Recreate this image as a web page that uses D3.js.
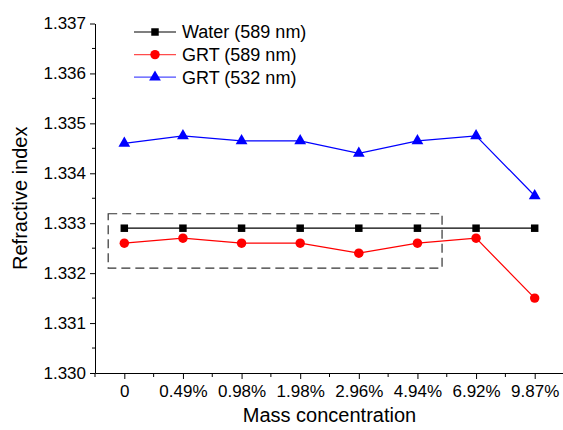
<!DOCTYPE html>
<html>
<head>
<meta charset="utf-8">
<script src="https://cdn.jsdelivr.net/npm/d3@7"></script>
<style>
  body { margin: 0; background: #fff; }
  text { font-family: Arial, "Liberation Sans", sans-serif; fill: #000; }
</style>
</head>
<body>
<div id="container"></div>
<script>
var categories = ["0", "0.49%", "0.98%", "1.98%", "2.96%", "4.94%", "6.92%", "9.87%"];
var water589 = [1.3329, 1.3329, 1.3329, 1.3329, 1.3329, 1.3329, 1.3329, 1.3329];
var grt589 = [1.3326, 1.3327, 1.3326, 1.3326, 1.3324, 1.3326, 1.3327, 1.3315];
var grt532 = [1.3346, 1.33475, 1.33465, 1.33465, 1.3344, 1.33465, 1.33475, 1.33355];
var yTicks = [1.330, 1.331, 1.332, 1.333, 1.334, 1.335, 1.336, 1.337];
var seriesNames = ["Water (589 nm)", "GRT (589 nm)", "GRT (532 nm)"];

var W = 563, H = 430;
var plotLeft = 95, plotRight = 564, plotTop = 23.5, plotBottom = 373;

var svg = d3.select("#container")
    .append("svg")
        .attr("width", W)
        .attr("height", H);

var x = d3.scaleLinear().domain([-0.5, 7.5]).range([plotLeft, plotRight]);
var y = d3.scaleLinear().domain([1.330, 1.337]).range([plotBottom, plotTop]);

// x axis
var xAxis = d3.axisBottom(x)
    .tickValues(d3.range(0, 8))
    .tickFormat(function(d) { return categories[d]; })
    .tickSize(6)
    .tickSizeOuter(0)
    .tickPadding(6);
var gx = svg.append("g")
    .attr("transform", "translate(0," + plotBottom + ")")
    .call(xAxis);
gx.selectAll("text").style("font-size", "17px");
gx.selectAll(".minor")
    .data(d3.range(-0.5, 8, 1))
    .enter().append("line")
    .attr("x1", function(d) { return x(d); })
    .attr("x2", function(d) { return x(d); })
    .attr("y1", 0).attr("y2", 4)
    .attr("stroke", "#000");

// y axis
var yAxis = d3.axisLeft(y)
    .tickValues(yTicks)
    .tickFormat(d3.format(".3f"))
    .tickSize(5)
    .tickSizeOuter(0)
    .tickPadding(4);
var gy = svg.append("g")
    .attr("transform", "translate(" + plotLeft + ",0)")
    .call(yAxis);
gy.selectAll("text").style("font-size", "17px");
gy.selectAll(".minor")
    .data(d3.range(1.3305, 1.337, 0.001))
    .enter().append("line")
    .attr("y1", function(d) { return y(d); })
    .attr("y2", function(d) { return y(d); })
    .attr("x1", 0).attr("x2", -3)
    .attr("stroke", "#000");
svg.selectAll(".domain").attr("stroke", "#000");

// axis titles
svg.append("text")
    .attr("x", (plotLeft + plotRight) / 2)
    .attr("y", 422)
    .attr("text-anchor", "middle")
    .style("font-size", "20px")
    .text("Mass concentration");
svg.append("text")
    .attr("transform", "translate(27," + (plotBottom + plotTop) / 2 + ") rotate(-90)")
    .attr("text-anchor", "middle")
    .style("font-size", "20px")
    .text("Refractive index");

// dashed box
svg.append("rect")
    .attr("x", x(-0.275))
    .attr("y", y(1.33319))
    .attr("width", x(5.42) - x(-0.275))
    .attr("height", y(1.3321) - y(1.33319))
    .attr("fill", "none")
    .attr("stroke", "#333")
    .attr("stroke-width", 1.2)
    .attr("stroke-dasharray", "9,5");

var series = [
    {name: seriesNames[0], values: water589, color: "#000000", shape: d3.symbolSquare, size: 56},
    {name: seriesNames[1], values: grt589, color: "#ff0000", shape: d3.symbolCircle, size: 70},
    {name: seriesNames[2], values: grt532, color: "#0000ff", shape: d3.symbolTriangle, size: 60}
];

var line = d3.line()
    .x(function(d, i) { return x(i); })
    .y(function(d) { return y(d); });

series.forEach(function(s) {
    svg.append("path")
        .datum(s.values)
        .attr("d", line)
        .attr("fill", "none")
        .attr("stroke", s.color)
        .attr("stroke-width", 1.2);
    svg.selectAll(null)
        .data(s.values)
        .enter().append("path")
        .attr("d", d3.symbol().type(s.shape).size(s.size))
        .attr("transform", function(d, i) { return "translate(" + x(i) + "," + y(d) + ")"; })
        .attr("fill", s.color);
});

// legend
var legend = svg.append("g").attr("transform", "translate(134,32)");
series.forEach(function(s, i) {
    var g = legend.append("g").attr("transform", "translate(0," + i * 22.6 + ")");
    g.append("line")
        .attr("x1", 0).attr("x2", 42)
        .attr("stroke", s.color)
        .attr("stroke-opacity", i == 0 ? 1 : 0.7)
        .attr("stroke-width", 1.2);
    g.append("path")
        .attr("d", d3.symbol().type(s.shape).size(s.size))
        .attr("transform", "translate(21,0)")
        .attr("fill", s.color);
    g.append("text")
        .attr("x", 48)
        .attr("dy", "0.35em")
        .style("font-size", "18px")
        .text(s.name);
});
</script>
</body>
</html>
